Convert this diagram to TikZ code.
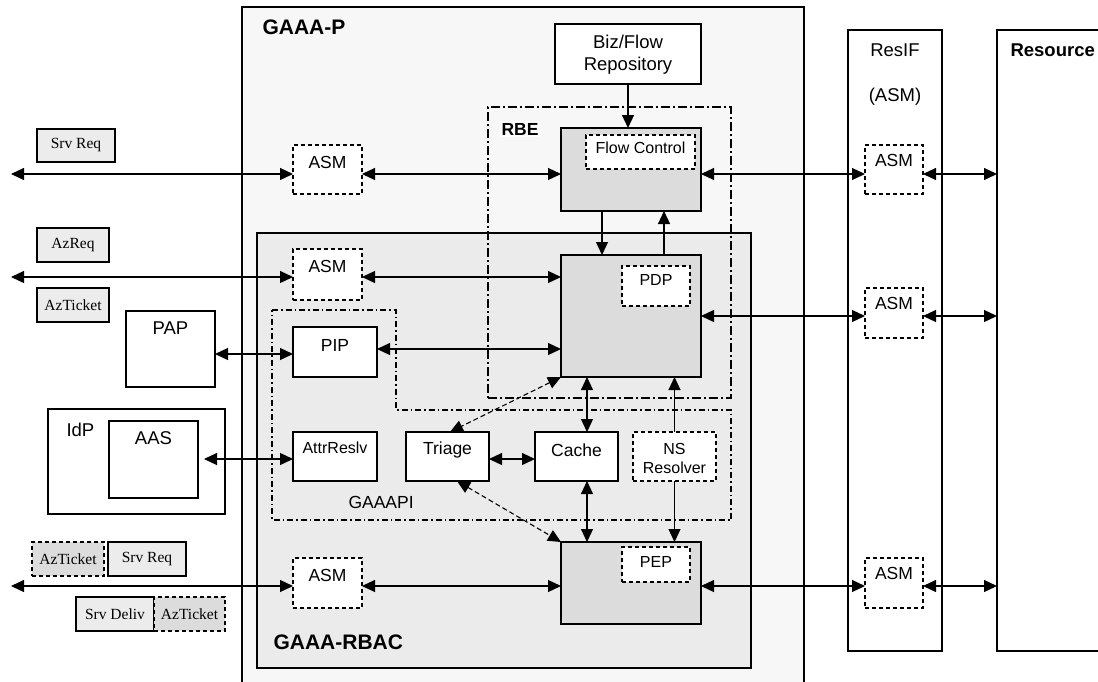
\documentclass[tikz,border=0pt]{standalone}
\usepackage{fontspec}
\setmainfont{Liberation Sans}
\newfontfamily\serifl{Liberation Serif}
\usetikzlibrary{arrows.meta,calc}
\definecolor{pfill}{HTML}{F7F7F7}
\definecolor{rfill}{HTML}{EBEBEB}
\definecolor{gfill}{HTML}{DCDCDC}
\definecolor{lfill}{HTML}{ECECEC}
\newcommand\fA{\fontsize{16}{20}\selectfont}
\newcommand\fB{\fontsize{17.5}{20}\selectfont}
\newcommand\fC{\fontsize{18.5}{20}\selectfont}
\newcommand\fS{\serifl\fontsize{15.5}{17}\selectfont}
\newcommand\fL{\bfseries\fontsize{21}{24}\selectfont}
\newcommand\mybox[8][]{%
  \node[#1, anchor=north west, minimum width={#5-#3}, minimum height={#6-#4}, inner sep=0pt, outer sep=0pt] (#2) at (#3,#4) {};
  \node[anchor=center, inner sep=0pt, align=center] (#2-t) at ($(#2.north)+(0,#7)$) {#8};}
\tikzset{
  myt/.tip={Triangle[length=13pt,width=12pt]},
  blk/.style={draw, line width=1.1pt, fill=white},
  gblk/.style={draw, line width=1.1pt, fill=gfill},
  dbox/.style={draw, line width=1.4pt, dash pattern=on 4pt off 3pt, fill=white},
  lab/.style={draw, line width=1.1pt, fill=lfill},
  dlab/.style={draw, line width=1.4pt, dash pattern=on 4pt off 3pt, fill=gfill},
  conn/.style={line width=1.2pt, myt-myt},
  conn1/.style={line width=1.2pt, -myt},
  dconn/.style={line width=1.1pt, myt-myt, dash pattern=on 5pt off 3pt},
  cont/.style={draw, line width=1.3pt, anchor=north west, inner sep=0pt, outer sep=0pt},
}
\begin{document}
\begin{tikzpicture}[x=1pt,y=-1pt]
\useasboundingbox (0,0) rectangle (1098,681);
% containers
\node[cont, fill=pfill, minimum width=562, minimum height=684] (gaaap) at (242,7) {};
\node[anchor=west, font=\fL] (gaaapL) at (259,27) {GAAA-P};
\node[cont, fill=rfill, minimum width=494, minimum height=435] (rbac) at (257,233) {};
\node[anchor=west, font=\fL] (rbacL) at (270,642) {GAAA-RBAC};
\node[cont, fill=none, line width=1.7pt, dash pattern=on 9pt off 3pt on 2pt off 3pt, minimum width=243, minimum height=291] (rbe) at (488,107) {};
\node[fill=white, font=\bfseries\fB, inner sep=2pt] (rbeL) at (520,129) {RBE};
\draw[line width=1.1pt, dash pattern=on 6pt off 3pt on 1.5pt off 3pt] (272,310) -- (396,310) -- (396,410) -- (731,410) -- (731,520) -- (272,520) -- cycle;
\node[anchor=west, font=\fB] (apiL) at (345,502) {GAAAPI};
\node[cont, fill=white, line width=1.1pt, minimum width=94, minimum height=621] (resif) at (848,30) {};
\node[font=\fC] (resifL) at (895,50) {ResIF};
\node[font=\fC] (resifL2) at (895,97) {(ASM)};
\node[cont, fill=white, line width=1.1pt, minimum width=120, minimum height=621] (res) at (997,30) {};
\node[anchor=west, font=\bfseries\fC] (resL) at (1007,50) {Resource};
\node[cont, fill=white, line width=1.1pt, minimum width=177, minimum height=105] (idp) at (48,409) {};
\node[anchor=west, font=\fC] (idpL) at (63,430) {IdP};
% boxes
\mybox[blk]{biz}{555}{24}{701}{84}{31}{\fC Biz/Flow\\[7pt]\fC Repository}
\mybox[gblk]{flow}{561}{128}{701}{211}{0}{}
\mybox[dbox]{fc}{586}{135}{695}{169}{13}{\fA Flow Control}
\mybox[dbox]{asm1}{293}{145}{362}{194}{17}{\fB ASM}
\mybox[dbox]{asm2}{293}{249}{362}{300}{17}{\fB ASM}
\mybox[dbox]{asm3}{293}{558}{362}{608}{17}{\fB ASM}
\mybox[gblk]{pdpb}{561}{255}{701}{377}{0}{}
\mybox[dbox]{pdp}{622}{266}{690}{306}{14}{\fA PDP}
\mybox[gblk]{pepb}{561}{542}{701}{624}{0}{}
\mybox[dbox]{pep}{622}{547}{690}{582}{15}{\fA PEP}
\mybox[blk]{pip}{293}{327}{377}{377}{18}{\fB PIP}
\mybox[blk]{attr}{293}{432}{377}{481}{16}{\fA AttrReslv}
\mybox[blk]{triage}{406}{432}{489}{481}{18}{\fB Triage}
\mybox[blk]{cache}{535}{432}{618}{481}{18}{\fB Cache}
\mybox[dbox]{ns}{633}{432}{716}{481}{26}{\fA NS\\[7pt]\fA Resolver}
\mybox[dbox]{rasm1}{865}{145}{923}{194}{15}{\fB ASM}
\mybox[dbox]{rasm2}{865}{288}{923}{338}{15}{\fB ASM}
\mybox[dbox]{rasm3}{865}{558}{923}{608}{15}{\fB ASM}
\mybox[blk]{pap}{126}{311}{215}{387}{17}{\fC PAP}
\mybox[blk]{aas}{109}{421}{198}{498}{17}{\fC AAS}
% message labels
\mybox[lab]{l1}{37}{129}{115}{162}{16.5}{\fS Srv Req}
\mybox[lab]{l2}{37}{228}{109}{262}{17}{\fS AzReq}
\mybox[lab]{l3}{37}{288}{109}{322}{17}{\fS AzTicket}
\mybox[dlab]{l4}{32}{542}{104}{576}{17}{\fS AzTicket}
\mybox[lab]{l5}{108}{542}{186}{576}{17}{\fS Srv Req}
\mybox[lab]{l6}{76}{597}{154}{631}{17}{\fS Srv Deliv}
\mybox[dlab]{l7}{154}{597}{225}{631}{17}{\fS AzTicket}
% connectors
\coordinate (e1) at (11,174);
\coordinate (e2) at (11,277);
\coordinate (e3) at (11,586);
\coordinate (e4) at (0,316);
\coordinate (e5) at (0,354);
\coordinate (e6) at (0,349);
\coordinate (e7) at (204,459);
\draw[conn] (e1) -- (asm1.west |- e1);
\draw[conn] (asm1.east |- e1) -- (flow.west |- e1);
\draw[conn] (flow.east |- e1) -- (rasm1.west |- e1);
\draw[conn] (rasm1.east |- e1) -- (res.west |- e1);
\draw[conn] (e2) -- (asm2.west |- e2);
\draw[conn] (asm2.east |- e2) -- (pdpb.west |- e2);
\draw[conn] (pdpb.east |- e4) -- (rasm2.west |- e4);
\draw[conn] (rasm2.east |- e4) -- (res.west |- e4);
\draw[conn] (pap.east |- e5) -- (pip.west |- e5);
\draw[conn] (pip.east |- e6) -- (pdpb.west |- e6);
\draw[conn] (e7) -- (attr.west |- e7);
\draw[conn] (triage.east |- e7) -- (cache.west |- e7);
\draw[conn] (e3) -- (asm3.west |- e3);
\draw[conn] (asm3.east |- e3) -- (pepb.west |- e3);
\draw[conn] (pepb.east |- e3) -- (rasm3.west |- e3);
\draw[conn] (rasm3.east |- e3) -- (res.west |- e3);
\coordinate (v2) at (602,0);
\coordinate (v3) at (664,0);
\coordinate (v4) at (587,0);
\draw[conn1] (biz.south) -- (biz.south |- flow.north);
\draw[conn1] (flow.south -| v2) -- (pdpb.north -| v2);
\draw[conn1] (pdpb.north -| v3) -- (flow.south -| v3);
\draw[conn] (pdpb.south -| v4) -- (cache.north -| v4);
\draw[conn] (cache.south -| v4) -- (pepb.north -| v4);
\draw[conn1] (ns.north) -- (ns.north |- pdpb.south);
\draw[conn1] (ns.south) -- (ns.south |- pepb.north);
\draw[dconn] (pdpb.south west) -- ($(triage.north west)+(44,0)$);
\draw[dconn] ($(triage.south west)+(51,0)$) -- (pepb.north west);
\end{tikzpicture}
\end{document}
